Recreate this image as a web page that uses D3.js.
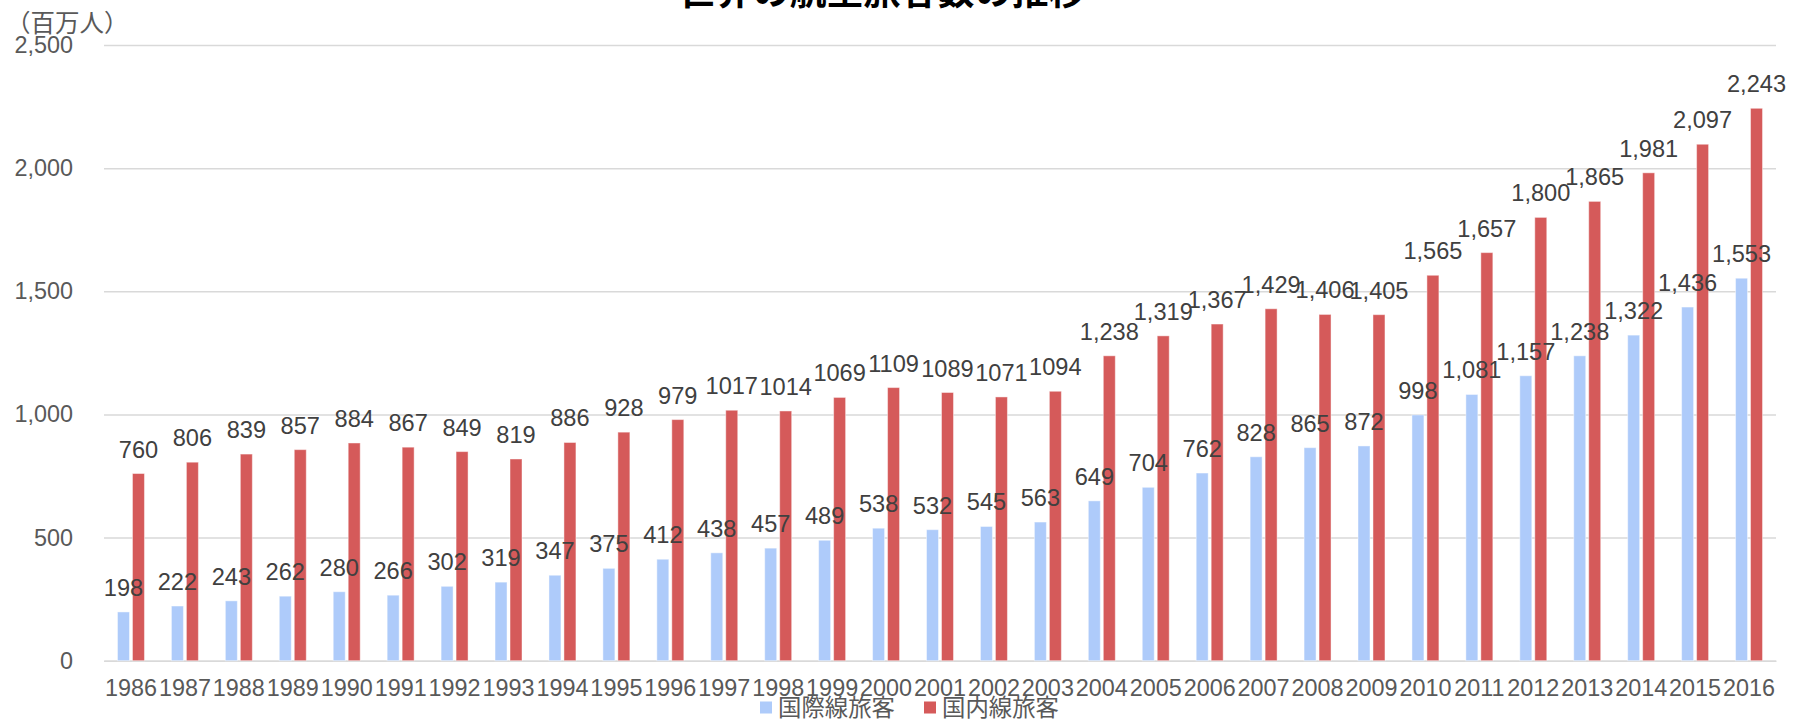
<!DOCTYPE html>
<html>
<head>
<meta charset="utf-8">
<script src="https://cdn.jsdelivr.net/npm/d3@7"></script>
<style>
  body { margin: 0; background: #fff; }
  text { font-family: "Liberation Sans", "Noto Sans CJK JP", sans-serif; }
</style>
</head>
<body>
<div id="chart"></div>
<script>
// data
var years = ["1986","1987","1988","1989","1990","1991","1992","1993","1994","1995","1996",
  "1997","1998","1999","2000","2001","2002","2003","2004","2005","2006","2007","2008",
  "2009","2010","2011","2012","2013","2014","2015","2016"];
var international = [198,222,243,262,280,266,302,319,347,375,412,438,457,489,538,532,545,
  563,649,704,762,828,865,872,998,1081,1157,1238,1322,1436,1553];
var domestic = [760,806,839,857,884,867,849,819,886,928,979,1017,1014,1069,1109,1089,1071,
  1094,1238,1319,1367,1429,1406,1405,1565,1657,1800,1865,1981,2097,2243];
// domestic labels for these years are printed without a thousands comma
var plainLabelYears = ["1997","1998","1999","2000","2001","2002","2003"];
var seriesNames = ["国際線旅客", "国内線旅客"];
var yTicks = [0, 500, 1000, 1500, 2000, 2500];

var svgWidth = 1797, svgHeight = 721;
var margin = {top: 45, right: 21, bottom: 60, left: 104};
var chartWidth = svgWidth - margin.left - margin.right;
var chartHeight = 660.7 - margin.top;

var colors = {"国際線旅客": "#aecbfa", "国内線旅客": "#d55a5a"};

var svg = d3.select("#chart").append("svg")
  .attr("width", svgWidth)
  .attr("height", svgHeight);

var chartGroup = svg.append("g")
  .attr("transform", `translate(${margin.left}, ${margin.top})`);

var yScale = d3.scaleLinear()
  .domain([0, 2500])
  .range([chartHeight, 0]);

var x0 = d3.scaleBand()
  .domain(years)
  .range([0, chartWidth])
  .paddingInner(0.5)
  .paddingOuter(0.25);

var x1 = d3.scaleBand()
  .domain(seriesNames)
  .range([0, x0.bandwidth()])
  .paddingInner(0.2);

// gridlines
chartGroup.append("g")
  .call(d3.axisLeft(yScale).tickValues(yTicks).tickSize(-chartWidth).tickFormat(""))
  .call(g => g.select(".domain").remove())
  .call(g => g.selectAll("line").attr("stroke", "#d9d9d9").attr("stroke-width", 1.5));

// y labels
chartGroup.append("g")
  .call(d3.axisLeft(yScale).tickValues(yTicks).tickSize(0).tickPadding(31).tickFormat(d3.format(",")))
  .call(g => g.select(".domain").remove())
  .call(g => g.selectAll("text")
    .attr("fill", "#595959")
    .style("font-size", "23.4px"));

// x labels
chartGroup.append("g")
  .attr("transform", `translate(0, ${chartHeight})`)
  .call(d3.axisBottom(x0).tickSize(0).tickPadding(19))
  .call(g => g.select(".domain").attr("stroke", "#d9d9d9").attr("stroke-width", 1.5))
  .call(g => g.selectAll("text")
    .attr("fill", "#595959")
    .style("font-size", "23.4px"));

var rows = years.map(function(y, i) {
  return {year: y, values: [
    {key: "国際線旅客", value: international[i]},
    {key: "国内線旅客", value: domestic[i]}
  ]};
});

var groups = chartGroup.selectAll(".year")
  .data(rows)
  .enter()
  .append("g")
  .attr("transform", d => `translate(${x0(d.year)}, 0)`);

groups.selectAll("rect")
  .data(d => d.values)
  .enter()
  .append("rect")
  .attr("x", d => x1(d.key))
  .attr("y", d => yScale(d.value))
  .attr("width", x1.bandwidth())
  .attr("height", d => chartHeight - yScale(d.value))
  .attr("fill", d => colors[d.key])
  .attr("stroke", "#ffffff")
  .attr("stroke-opacity", 0.45)
  .attr("stroke-width", 1);

var commaFmt = d3.format(",");
groups.selectAll(".label")
  .data(d => d.values.map(v => Object.assign({year: d.year}, v)))
  .enter()
  .append("text")
  .attr("x", d => x1(d.key) + x1.bandwidth() / 2)
  .attr("y", d => yScale(d.value) - 16)
  .attr("text-anchor", "middle")
  .attr("fill", "#404040")
  .style("font-size", "23.6px")
  .text(function(d) {
    if (d.key === "国内線旅客" && plainLabelYears.indexOf(d.year) >= 0) return String(d.value);
    return commaFmt(d.value);
  });

// title, mostly cut off at the top edge
svg.append("text")
  .attr("x", 882)
  .attr("y", 5)
  .attr("text-anchor", "middle")
  .attr("fill", "#000")
  .style("font-size", "37px")
  .style("font-weight", "bold")
  .style("font-family", "'Noto Sans CJK JP', sans-serif")
  .text("世界の航空旅客数の推移");

// unit label
svg.append("text")
  .attr("x", 6)
  .attr("y", 32)
  .attr("fill", "#595959")
  .style("font-size", "24.5px")
  .style("font-family", "'Noto Sans CJK JP', sans-serif")
  .text("（百万人）");

// legend
var legendX = [760, 924];
var legend = svg.selectAll(".legend")
  .data(seriesNames)
  .enter()
  .append("g")
  .attr("transform", (d, i) => `translate(${legendX[i]}, 701.5)`);

legend.append("rect")
  .attr("width", 12)
  .attr("height", 12)
  .attr("fill", d => colors[d]);

legend.append("text")
  .attr("x", 18)
  .attr("y", 14)
  .attr("fill", "#595959")
  .style("font-size", "23.4px")
  .style("font-family", "'Noto Sans CJK JP', sans-serif")
  .text(d => d);
</script>
</body>
</html>
